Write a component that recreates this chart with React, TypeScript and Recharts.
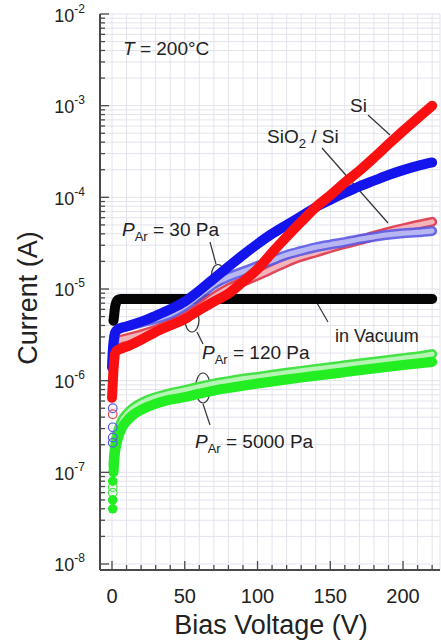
import React from "react"
import {
    ComposedChart,
    Line,
    Scatter,
    XAxis,
    YAxis,
    CartesianGrid,
    Customized,
} from "recharts"

// bias voltage (V) / current (A)
const vacuum = [
    { v: 1, i: 4.5e-6 }, { v: 1.5, i: 5.2e-6 }, { v: 2, i: 6.2e-6 }, { v: 3, i: 7.2e-6 },
    { v: 4, i: 7.6e-6 }, { v: 6, i: 7.8e-6 }, { v: 10, i: 7.8e-6 }, { v: 20, i: 7.8e-6 },
    { v: 40, i: 7.8e-6 }, { v: 60, i: 7.8e-6 }, { v: 80, i: 7.8e-6 }, { v: 100, i: 7.8e-6 },
    { v: 120, i: 7.8e-6 }, { v: 140, i: 7.8e-6 }, { v: 160, i: 7.8e-6 }, { v: 180, i: 7.8e-6 },
    { v: 200, i: 7.8e-6 }, { v: 220, i: 7.8e-6 },
]

const si120 = [
    { v: 0, i: 6.5e-7 }, { v: 0.3, i: 8e-7 }, { v: 0.6, i: 1.0e-6 }, { v: 1, i: 1.3e-6 },
    { v: 1.5, i: 1.65e-6 }, { v: 2, i: 1.95e-6 }, { v: 3, i: 2.1e-6 }, { v: 5, i: 2.2e-6 },
    { v: 10, i: 2.35e-6 }, { v: 20, i: 2.8e-6 }, { v: 30, i: 3.4e-6 }, { v: 40, i: 4.0e-6 },
    { v: 50, i: 4.7e-6 }, { v: 60, i: 5.9e-6 }, { v: 70, i: 7.3e-6 }, { v: 80, i: 8.9e-6 },
    { v: 90, i: 1.2e-5 }, { v: 100, i: 1.65e-5 }, { v: 110, i: 2.5e-5 }, { v: 120, i: 3.7e-5 },
    { v: 130, i: 5.4e-5 }, { v: 140, i: 7.8e-5 }, { v: 150, i: 1.05e-4 }, { v: 160, i: 1.45e-4 },
    { v: 170, i: 1.95e-4 }, { v: 180, i: 2.7e-4 }, { v: 190, i: 3.8e-4 }, { v: 200, i: 5.3e-4 },
    { v: 210, i: 7.3e-4 }, { v: 220, i: 1.0e-3 },
]

const si30 = [
    { v: 0, i: 1.4e-6 }, { v: 0.3, i: 1.8e-6 }, { v: 0.6, i: 2.2e-6 }, { v: 1, i: 2.6e-6 },
    { v: 1.5, i: 3.0e-6 }, { v: 2, i: 3.3e-6 }, { v: 3, i: 3.5e-6 }, { v: 5, i: 3.7e-6 },
    { v: 10, i: 3.9e-6 }, { v: 20, i: 4.4e-6 }, { v: 30, i: 5.1e-6 }, { v: 40, i: 6.0e-6 },
    { v: 50, i: 7.3e-6 }, { v: 60, i: 9.6e-6 }, { v: 70, i: 1.3e-5 }, { v: 80, i: 1.75e-5 },
    { v: 90, i: 2.35e-5 }, { v: 100, i: 3.1e-5 }, { v: 110, i: 4.0e-5 }, { v: 120, i: 5.0e-5 },
    { v: 130, i: 6.2e-5 }, { v: 140, i: 7.8e-5 }, { v: 150, i: 9.4e-5 }, { v: 160, i: 1.12e-4 },
    { v: 170, i: 1.32e-4 }, { v: 180, i: 1.52e-4 }, { v: 190, i: 1.75e-4 }, { v: 200, i: 1.98e-4 },
    { v: 210, i: 2.2e-4 }, { v: 220, i: 2.4e-4 },
]

const oxide120 = [
    { v: 1, i: 1.6e-6 }, { v: 2, i: 2.4e-6 }, { v: 3, i: 2.6e-6 }, { v: 5, i: 2.75e-6 },
    { v: 10, i: 2.9e-6 }, { v: 20, i: 3.2e-6 }, { v: 30, i: 3.6e-6 }, { v: 40, i: 4.2e-6 },
    { v: 50, i: 5.0e-6 }, { v: 60, i: 6.3e-6 }, { v: 70, i: 8.2e-6 }, { v: 80, i: 1.02e-5 },
    { v: 90, i: 1.2e-5 }, { v: 100, i: 1.4e-5 }, { v: 110, i: 1.65e-5 }, { v: 120, i: 1.95e-5 },
    { v: 130, i: 2.25e-5 }, { v: 140, i: 2.5e-5 }, { v: 150, i: 2.8e-5 }, { v: 160, i: 3.1e-5 },
    { v: 170, i: 3.4e-5 }, { v: 180, i: 3.8e-5 }, { v: 190, i: 4.2e-5 }, { v: 200, i: 4.6e-5 },
    { v: 210, i: 5.0e-5 }, { v: 220, i: 5.4e-5 },
]
const oxide120Start = [{ v: 0.5, i: 4.3e-7 }]

const oxide30 = [
    { v: 1, i: 2.0e-6 }, { v: 2, i: 3.2e-6 }, { v: 3, i: 3.5e-6 }, { v: 5, i: 3.7e-6 },
    { v: 10, i: 3.9e-6 }, { v: 20, i: 4.3e-6 }, { v: 30, i: 4.7e-6 }, { v: 40, i: 5.3e-6 },
    { v: 50, i: 6.5e-6 }, { v: 60, i: 8.5e-6 }, { v: 70, i: 1.12e-5 }, { v: 80, i: 1.35e-5 },
    { v: 90, i: 1.55e-5 }, { v: 100, i: 1.78e-5 }, { v: 110, i: 2.05e-5 }, { v: 120, i: 2.35e-5 },
    { v: 130, i: 2.6e-5 }, { v: 140, i: 2.85e-5 }, { v: 150, i: 3.05e-5 }, { v: 160, i: 3.25e-5 },
    { v: 170, i: 3.5e-5 }, { v: 180, i: 3.7e-5 }, { v: 190, i: 3.9e-5 }, { v: 200, i: 4.05e-5 },
    { v: 210, i: 4.15e-5 }, { v: 220, i: 4.3e-5 },
]
const oxide30Start = [
    { v: 0.5, i: 5e-7 }, { v: 0.5, i: 3.1e-7 }, { v: 0.5, i: 2.4e-7 }, { v: 0.5, i: 2.1e-7 },
]

const si5000 = [
    { v: 1, i: 1.0e-7 }, { v: 1.5, i: 1.3e-7 }, { v: 2, i: 1.6e-7 }, { v: 3, i: 2.0e-7 },
    { v: 5, i: 2.6e-7 }, { v: 7, i: 3.1e-7 }, { v: 10, i: 3.6e-7 }, { v: 15, i: 4.3e-7 },
    { v: 20, i: 4.8e-7 }, { v: 30, i: 5.6e-7 }, { v: 40, i: 6.2e-7 }, { v: 50, i: 6.6e-7 },
    { v: 60, i: 7.2e-7 }, { v: 70, i: 7.8e-7 }, { v: 80, i: 8.3e-7 }, { v: 90, i: 8.8e-7 },
    { v: 100, i: 9.3e-7 }, { v: 110, i: 9.8e-7 }, { v: 120, i: 1.03e-6 }, { v: 130, i: 1.08e-6 },
    { v: 140, i: 1.13e-6 }, { v: 150, i: 1.18e-6 }, { v: 160, i: 1.24e-6 }, { v: 170, i: 1.3e-6 },
    { v: 180, i: 1.36e-6 }, { v: 190, i: 1.42e-6 }, { v: 200, i: 1.48e-6 }, { v: 210, i: 1.54e-6 },
    { v: 220, i: 1.6e-6 },
]
const si5000Start = [{ v: 0.5, i: 4e-8 }, { v: 0.5, i: 5e-8 }, { v: 0.5, i: 8e-8 }]

const oxide5000 = [
    { v: 1, i: 1.2e-7 }, { v: 1.5, i: 1.6e-7 }, { v: 2, i: 1.9e-7 }, { v: 3, i: 2.4e-7 },
    { v: 5, i: 3.1e-7 }, { v: 7, i: 3.7e-7 }, { v: 10, i: 4.3e-7 }, { v: 15, i: 5.1e-7 },
    { v: 20, i: 5.7e-7 }, { v: 30, i: 6.6e-7 }, { v: 40, i: 7.3e-7 }, { v: 50, i: 7.9e-7 },
    { v: 60, i: 8.6e-7 }, { v: 70, i: 9.3e-7 }, { v: 80, i: 9.9e-7 }, { v: 90, i: 1.05e-6 },
    { v: 100, i: 1.1e-6 }, { v: 110, i: 1.16e-6 }, { v: 120, i: 1.22e-6 }, { v: 130, i: 1.28e-6 },
    { v: 140, i: 1.34e-6 }, { v: 150, i: 1.4e-6 }, { v: 160, i: 1.47e-6 }, { v: 170, i: 1.54e-6 },
    { v: 180, i: 1.61e-6 }, { v: 190, i: 1.68e-6 }, { v: 200, i: 1.76e-6 }, { v: 210, i: 1.84e-6 },
    { v: 220, i: 1.95e-6 },
]
const oxide5000Start = [{ v: 0.5, i: 6e-8 }, { v: 0.5, i: 6.9e-8 }]

// axes
const xTicks = [0, 10, 20, 30, 40, 50, 60, 70, 80, 90, 100, 110, 120, 130, 140, 150, 160, 170, 180, 190, 200, 210, 220]
const decades = [-8, -7, -6, -5, -4, -3]
const mantissas = [1, 2, 3, 4, 5, 6, 7, 8, 9]
const yTicks = [...decades.flatMap((e) => mantissas.map((m) => m * Math.pow(10, e))), 1e-2]

const font = "'Liberation Sans', Arial, sans-serif"
const frame = "#4a4a4a"

const isDecade = (v: number) => Math.abs(Math.log10(v) - Math.round(Math.log10(v))) < 1e-6

const LeftTick = (p: any) => {
    const { x, y, payload } = p
    const major = isDecade(payload.value)
    return (
        <g>
            <line x1={x} x2={x + (major ? 9 : 5)} y1={y} y2={y} stroke={frame} strokeWidth={1.3} />
            {major && (
                <text x={x - 15} y={y + 7.5} textAnchor="end" fontSize={18} fontFamily={font} fill="#222">
                    10<tspan dy={-9} fontSize={12}>{Math.round(Math.log10(payload.value))}</tspan>
                </text>
            )}
        </g>
    )
}

const RightTick = (p: any) => {
    const { x, y, payload } = p
    const major = isDecade(payload.value)
    return <line x1={x} x2={x - (major ? 9 : 5)} y1={y} y2={y} stroke={frame} strokeWidth={1.3} />
}

const BottomTick = (p: any) => {
    const { x, y, payload } = p
    const major = payload.value % 50 === 0
    return (
        <g>
            <line x1={x} x2={x} y1={y} y2={y - (major ? 9 : 5)} stroke={frame} strokeWidth={1.3} />
            {major && (
                <text x={x} y={y + 33} textAnchor="middle" fontSize={20} fontFamily={font} fill="#222">
                    {payload.value}
                </text>
            )}
        </g>
    )
}

const TopTick = (p: any) => {
    const { x, y, payload } = p
    const major = payload.value % 50 === 0
    return <line x1={x} x2={x} y1={y} y2={y + (major ? 9 : 5)} stroke={frame} strokeWidth={1.3} />
}

const openShape = (color: string) => (p: any) =>
    <circle cx={p.cx} cy={p.cy} r={4.3} fill="none" stroke={color} strokeWidth={1.2} />
const filledShape = (color: string) => (p: any) =>
    <circle cx={p.cx} cy={p.cy} r={4.8} fill={color} />

const Annotations = () => {
    const t = { fontFamily: font, fill: "#222" }
    const lead = { stroke: "#333", strokeWidth: 1.2, fill: "none" }
    return (
        <g>
            <text x={123} y={55} fontSize={19} {...t}>
                <tspan fontStyle="italic">T</tspan> = 200°C
            </text>
            <text x={350} y={112} fontSize={19} {...t}>Si</text>
            <line x1={368} y1={115} x2={390} y2={135} {...lead} />
            <text x={267} y={143} fontSize={19} {...t}>
                SiO<tspan dy={5} fontSize={13}>2</tspan><tspan dy={-5}> / Si</tspan>
            </text>
            <line x1={322} y1={148} x2={388} y2={223} {...lead} />

            <text x={122} y={236} fontSize={19} {...t}>
                <tspan fontStyle="italic">P</tspan><tspan dy={5} fontSize={13}>Ar</tspan><tspan dy={-5}> = 30 Pa</tspan>
            </text>
            <line x1={210} y1={242} x2={216} y2={264} {...lead} />
            <ellipse cx={218} cy={275} rx={6.5} ry={10.5} {...lead} />

            <ellipse cx={192} cy={320} rx={7} ry={12} {...lead} />
            <line x1={197} y1={332} x2={203} y2={344} {...lead} />
            <text x={202} y={359} fontSize={19} {...t}>
                <tspan fontStyle="italic">P</tspan><tspan dy={5} fontSize={13}>Ar</tspan><tspan dy={-5}> = 120 Pa</tspan>
            </text>

            <line x1={317} y1={303} x2={328} y2={322} {...lead} />
            <text x={335} y={342} fontSize={18} {...t}>in Vacuum</text>

            <ellipse cx={203} cy={388} rx={7.5} ry={15} {...lead} />
            <line x1={203} y1={404} x2={210} y2={425} {...lead} />
            <text x={195} y={448} fontSize={19} {...t}>
                <tspan fontStyle="italic">P</tspan><tspan dy={5} fontSize={13}>Ar</tspan><tspan dy={-5}> = 5000 Pa</tspan>
            </text>

            <text transform="translate(37,298) rotate(-90)" textAnchor="middle" fontSize={27} {...t}>
                Current (A)
            </text>
            <text x={271} y={634} textAnchor="middle" fontSize={27} {...t}>
                Bias Voltage (V)
            </text>
        </g>
    )
}

const band = { type: "monotone" as const, dataKey: "i", dot: false, isAnimationActive: false, strokeLinecap: "round" as const, strokeLinejoin: "round" as const }

export default function App() {
    return (
        <div style={{ position: "absolute", left: 0, top: 0, width: 441, height: 641, background: "#fff" }}>
            <ComposedChart width={441} height={641} margin={{ top: 14, right: 1, bottom: 0, left: 0 }}>
                <CartesianGrid stroke="#e3e3ee" strokeWidth={1} />
                <XAxis
                    type="number"
                    dataKey="v"
                    domain={[-8.25, 225.4]}
                    allowDataOverflow
                    ticks={xTicks}
                    interval={0}
                    height={71}
                    tickSize={0}
                    tickMargin={0}
                    tickLine={false}
                    axisLine={{ stroke: frame, strokeWidth: 2 }}
                    tick={BottomTick}
                />
                <XAxis
                    xAxisId="top"
                    orientation="top"
                    type="number"
                    domain={[-8.25, 225.4]}
                    allowDataOverflow
                    ticks={xTicks}
                    interval={0}
                    height={0}
                    tickSize={0}
                    tickMargin={0}
                    tickLine={false}
                    axisLine={{ stroke: frame, strokeWidth: 2 }}
                    tick={TopTick}
                />
                <YAxis
                    type="number"
                    dataKey="i"
                    scale="log"
                    domain={[8.6e-9, 1e-2]}
                    allowDataOverflow
                    ticks={yTicks}
                    interval={0}
                    width={100}
                    tickSize={0}
                    tickMargin={0}
                    tickLine={false}
                    axisLine={{ stroke: frame, strokeWidth: 2 }}
                    tick={LeftTick}
                />
                <YAxis
                    yAxisId="right"
                    orientation="right"
                    type="number"
                    scale="log"
                    domain={[8.6e-9, 1e-2]}
                    allowDataOverflow
                    ticks={yTicks}
                    interval={0}
                    width={0}
                    tickSize={0}
                    tickMargin={0}
                    tickLine={false}
                    axisLine={{ stroke: frame, strokeWidth: 2 }}
                    tick={RightTick}
                />

                <Line {...band} data={vacuum} stroke="#050505" strokeWidth={10} />

                <Line {...band} data={oxide5000} stroke="#45e245" strokeWidth={10} />
                <Line {...band} data={oxide5000} stroke="#b4f5b4" strokeWidth={5} />
                <Line {...band} data={si5000} stroke="#22ee22" strokeWidth={10} />

                <Line {...band} data={oxide120} stroke="#e0485a" strokeWidth={10} />
                <Line {...band} data={oxide120} stroke="#f4b4bc" strokeWidth={5} />
                <Line {...band} data={oxide30} stroke="#5a5ae6" strokeWidth={10} strokeOpacity={0.9} />
                <Line {...band} data={oxide30} stroke="#c0c0f4" strokeWidth={5} strokeOpacity={0.9} />

                <Line {...band} data={si30} stroke="#1414ec" strokeWidth={10} />
                <Line {...band} data={si120} stroke="#fa1010" strokeWidth={10} />

                <Scatter data={oxide30Start} isAnimationActive={false} shape={openShape("#5a5ae6")} />
                <Scatter data={oxide120Start} isAnimationActive={false} shape={openShape("#e0485a")} />
                <Scatter data={oxide5000Start} isAnimationActive={false} shape={openShape("#45e245")} />
                <Scatter data={si5000Start} isAnimationActive={false} shape={filledShape("#22ee22")} />

                <Customized component={Annotations} />
            </ComposedChart>
        </div>
    )
}
